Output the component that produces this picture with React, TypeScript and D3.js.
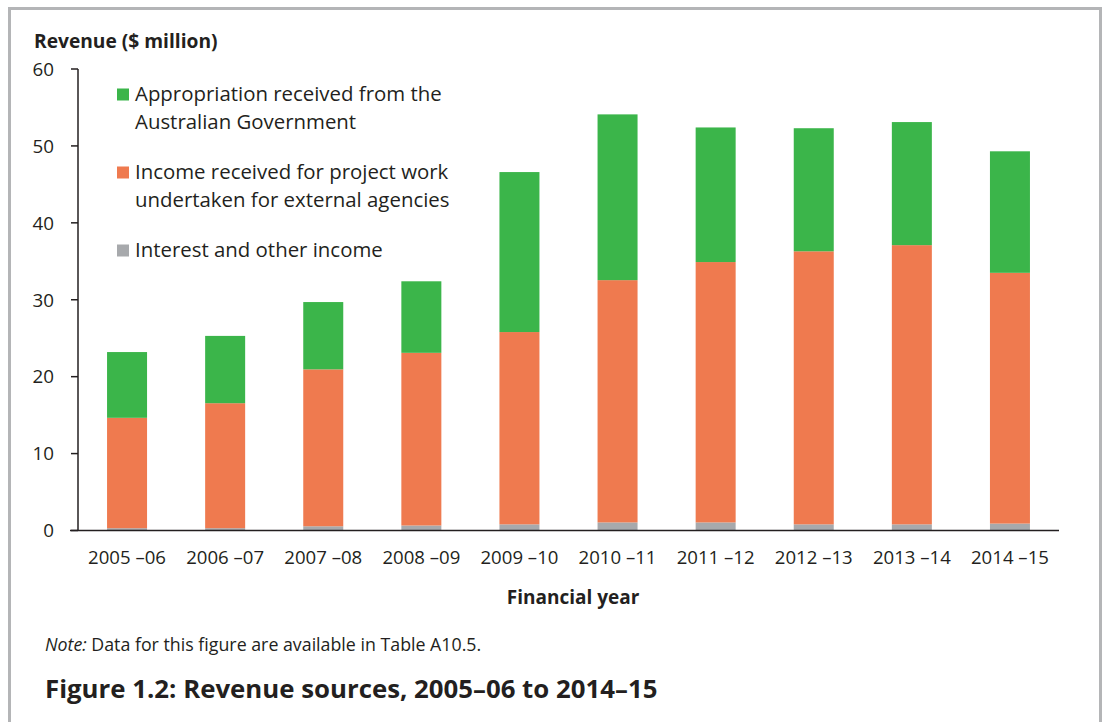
import React from "react";
import * as d3 from "d3";

const categories = ["2005 –06", "2006 –07", "2007 –08", "2008 –09", "2009 –10", "2010 –11", "2011 –12", "2012 –13", "2013 –14", "2014 –15"];
const interestIncome = [0.3, 0.3, 0.55, 0.65, 0.8, 1.05, 1.05, 0.8, 0.8, 0.9];
const projectIncome = [14.35, 16.25, 20.4, 22.45, 25.0, 31.5, 33.85, 35.5, 36.3, 32.6];
const appropriation = [8.55, 8.75, 8.75, 9.3, 20.8, 21.55, 17.5, 16.0, 16.0, 15.8];
const yTicks = [0, 10, 20, 30, 40, 50, 60];

const seriesKeys = ["interest", "project", "appropriation"];
const seriesColors: Record<string, string> = {
  interest: "#a7a9ac",
  project: "#ef7a4f",
  appropriation: "#3bb54a",
};
const legendItems = [
  { key: "appropriation", lines: ["Appropriation received from the", "Australian Government"] },
  { key: "project", lines: ["Income received for project work", "undertaken for external agencies"] },
  { key: "interest", lines: ["Interest and other income"] },
];

const FONT = "'Open Sans', 'Noto Sans', sans-serif";

export default function App() {
  const W = 1104, H = 722;
  const left = 78, right = 1059, top = 69, bottom = 530.5;
  const x = d3.scaleBand<string>().domain(categories).range([left, right]).paddingInner(0).paddingOuter(0);
  const y = d3.scaleLinear().domain([0, 60]).range([bottom, top]);
  const barW = 40;

  const table = categories.map((c, i) => ({
    cat: c,
    interest: interestIncome[i],
    project: projectIncome[i],
    appropriation: appropriation[i],
  }));
  const stacked = d3.stack<any>().keys(seriesKeys)(table);

  let legendY = 101;
  const legendEls: React.ReactNode[] = [];
  legendItems.forEach((item) => {
    const y0 = legendY;
    legendEls.push(
      <g key={item.key}>
        <rect x={117} y={y0 - 12.5} width={12} height={12} fill={seriesColors[item.key]} />
        {item.lines.map((ln, j) => (
          <text key={j} x={135} y={y0 + j * 28} fontSize={20.4} fill="#231f20">{ln}</text>
        ))}
      </g>
    );
    legendY += item.lines.length * 28 + 22;
  });

  return (
    <svg width={W} height={H} style={{ position: "absolute", left: 0, top: 0, background: "#fff" }} fontFamily={FONT}>
      <rect x={0} y={0} width={W} height={H} fill="#fff" />
      {/* frame */}
      <path d={`M9.5,${H + 5} V8.5 H1100.5 V${H + 5}`} fill="none" stroke="#b4b5b7" strokeWidth={3} />

      {/* y axis title */}
      <text x={34} y={48} fontSize={19.2} fontWeight={700} fill="#231f20">Revenue ($ million)</text>

      {/* bars */}
      {stacked.map((s) => (
        <g key={s.key} fill={seriesColors[s.key]}>
          {s.map((d, i) => (
            <rect key={i} x={(x(categories[i]) as number) + x.bandwidth() / 2 - barW / 2} y={y(d[1])} width={barW} height={y(d[0]) - y(d[1])} />
          ))}
        </g>
      ))}

      {/* y axis */}
      <line x1={left} x2={left} y1={top} y2={bottom} stroke="#231f20" strokeWidth={1.5} />
      {yTicks.map((t) => (
        <g key={t}>
          <line x1={left - 7} x2={left} y1={y(t)} y2={y(t)} stroke="#231f20" strokeWidth={1.5} />
          <text x={54} y={y(t)} dy="0.36em" textAnchor="end" fontSize={18.8} fill="#231f20">{t}</text>
        </g>
      ))}

      {/* x axis */}
      <line x1={left - 8} x2={right} y1={bottom} y2={bottom} stroke="#231f20" strokeWidth={1.5} />
      {categories.map((c) => (
        <text key={c} x={(x(c) as number) + x.bandwidth() / 2} y={564} textAnchor="middle" fontSize={18.6} fill="#231f20">{c}</text>
      ))}
      <text x={573} y={604} textAnchor="middle" fontSize={19} fontWeight={700} fill="#231f20">Financial year</text>

      {/* legend */}
      {legendEls}

      {/* note */}
      <text x={45} y={651} fontSize={17.8} fill="#231f20">
        <tspan fontStyle="italic">Note:</tspan> Data for this figure are available in Table A10.5.
      </text>

      {/* title */}
      <text x={45} y={698} fontSize={25.8} fontWeight={700} fill="#231f20">Figure 1.2: Revenue sources, 2005–06 to 2014–15</text>
    </svg>
  );
}
